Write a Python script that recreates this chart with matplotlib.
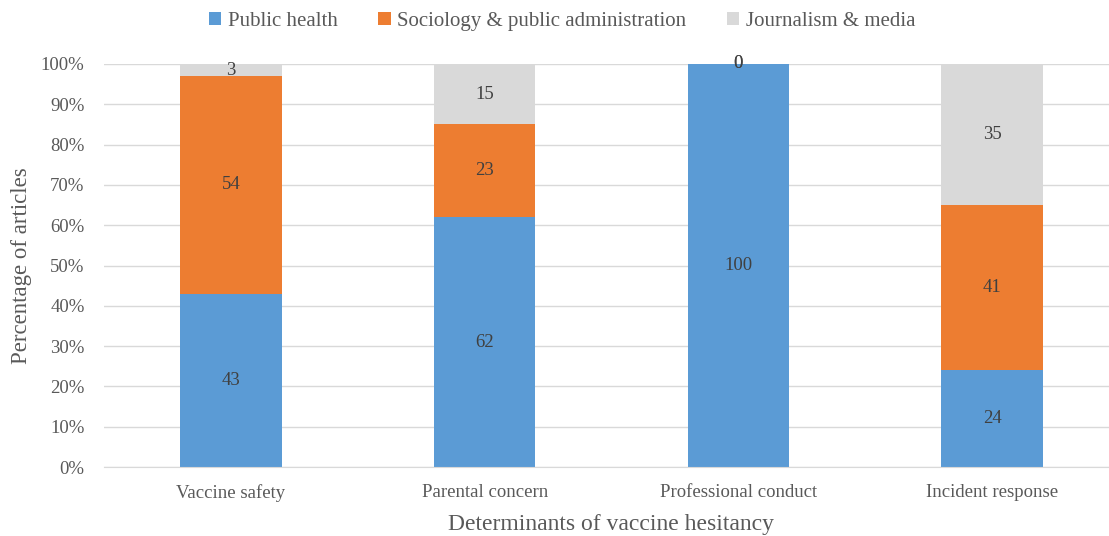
import numpy as np
from matplotlib import pyplot as plt
from matplotlib.ticker import PercentFormatter

# ----------------------------------- DATA ----------------------------------- #

categories = ["Vaccine safety", "Parental concern", "Professional conduct", "Incident response"]
series_names = ["Public health", "Sociology & public administration", "Journalism & media"]
public_health = [43, 62, 100, 24]
sociology = [54, 23, 0, 41]
journalism = [3, 15, 0, 35]
colors = ["#5B9BD5", "#ED7D31", "#D9D9D9"]

TEXT = "#595959"

# ----------------------------------- PLOT ----------------------------------- #

plt.rcParams["font.family"] = ["Liberation Serif", "DejaVu Serif"]


def main():
    fig = plt.figure(figsize=(11.09, 5.36), dpi=100)
    # plot area runs a little past the right edge, like the original export
    ax = fig.add_axes([104 / 1109, 1 - 467 / 536, 1015 / 1109, 403 / 536])

    x = np.arange(len(categories))
    bottom = np.zeros(len(categories))
    for name, values, color in zip(series_names, [public_health, sociology, journalism], colors):
        values = np.array(values, dtype=float)
        ax.bar(x, values, 0.40, bottom=bottom, color=color, label=name, zorder=2)
        for xi, b, v in zip(x, bottom, values):
            ax.text(xi, b + v / 2, f"{v:.0f}", ha="center", va="center",
                    fontsize=13.5, color="#404040", zorder=3)
        bottom += values

    ax.set_xlim(-0.5, len(categories) - 0.5)
    ax.set_ylim(0, 100)
    ax.set_yticks(np.arange(0, 101, 10))
    ax.yaxis.set_major_formatter(PercentFormatter(decimals=0))
    ax.set_xticks(x)
    ax.set_xticklabels(categories)
    ax.tick_params(axis="both", length=0, labelsize=13.5, labelcolor=TEXT)
    ax.tick_params(axis="x", pad=12)
    ax.tick_params(axis="y", pad=14)
    ax.grid(axis="y", color="#D9D9D9", linewidth=1, zorder=0)
    for side in ["top", "right", "left"]:
        ax.spines[side].set_visible(False)
    ax.spines["bottom"].set_color("#D9D9D9")

    ax.set_xlabel("Determinants of vaccine hesitancy", fontsize=17, color=TEXT, labelpad=9)
    ax.set_ylabel("Percentage of articles", fontsize=16.5, color=TEXT, labelpad=6)

    fig.legend(loc="center", bbox_to_anchor=(562 / 1109, 1 - 21 / 536), ncol=3, frameon=False,
               fontsize=15, labelcolor=TEXT, handlelength=0.6, handleheight=0.6,
               handletextpad=0.3, columnspacing=1.95)

    fig.savefig("out.png", dpi=100)


if __name__ == "__main__":
    main()
